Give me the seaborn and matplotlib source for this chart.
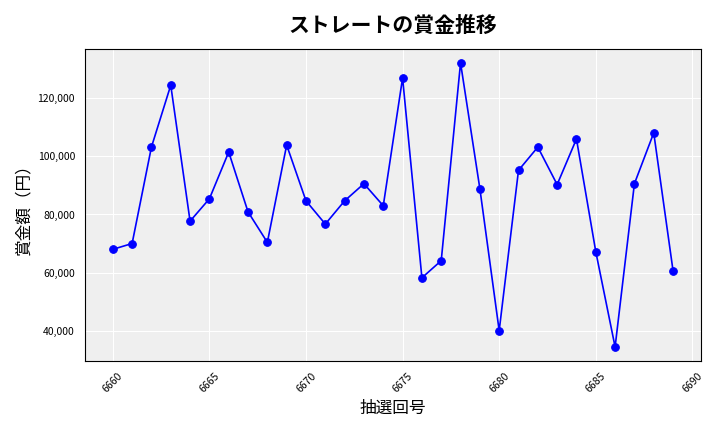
import matplotlib
matplotlib.use("Agg")
import matplotlib.pyplot as plt
import seaborn as sns
import pandas as pd
from matplotlib.ticker import FuncFormatter

draws = list(range(6660, 6690))
prizes = [68000, 70000, 103200, 124500, 77700, 85400, 101500, 80900, 70400, 103900,
          84700, 76700, 84700, 90600, 83000, 127000, 58200, 64100, 132200, 88900,
          40000, 95200, 103200, 90300, 106000, 67200, 34400, 90600, 108100, 60600]

sns.set_style("darkgrid", {"axes.facecolor": "#efefef", "grid.color": "white",
                           "text.color": "black", "axes.labelcolor": "black",
                           "xtick.color": "black", "ytick.color": "black"})
plt.rcParams['font.family'] = ['Noto Sans CJK JP', 'DejaVu Sans']

df = pd.DataFrame({"draw": draws, "prize": prizes})
fig, ax = plt.subplots(figsize=(7.2, 4.32), dpi=100)
sns.lineplot(data=df, x="draw", y="prize", color="blue", marker="o", markersize=5.5,
             markeredgecolor="blue", linewidth=1.2, ax=ax)
ax.set_title("ストレートの賞金推移", fontsize=15, fontweight="bold", pad=12)
ax.set_xlabel("抽選回号", fontsize=12)
ax.set_ylabel("賞金額（円）", fontsize=12)
ax.yaxis.set_major_formatter(FuncFormatter(lambda v, p: f"{int(v):,}"))
ax.set_xticks(range(6660, 6691, 5))
ax.tick_params(axis="x", labelrotation=45, labelsize=7.5)
ax.tick_params(axis="y", labelsize=7.5)
for s in ax.spines.values():
    s.set_visible(True); s.set_color("black"); s.set_linewidth(0.8)
fig.tight_layout()
fig.savefig("out.png", dpi=100)
